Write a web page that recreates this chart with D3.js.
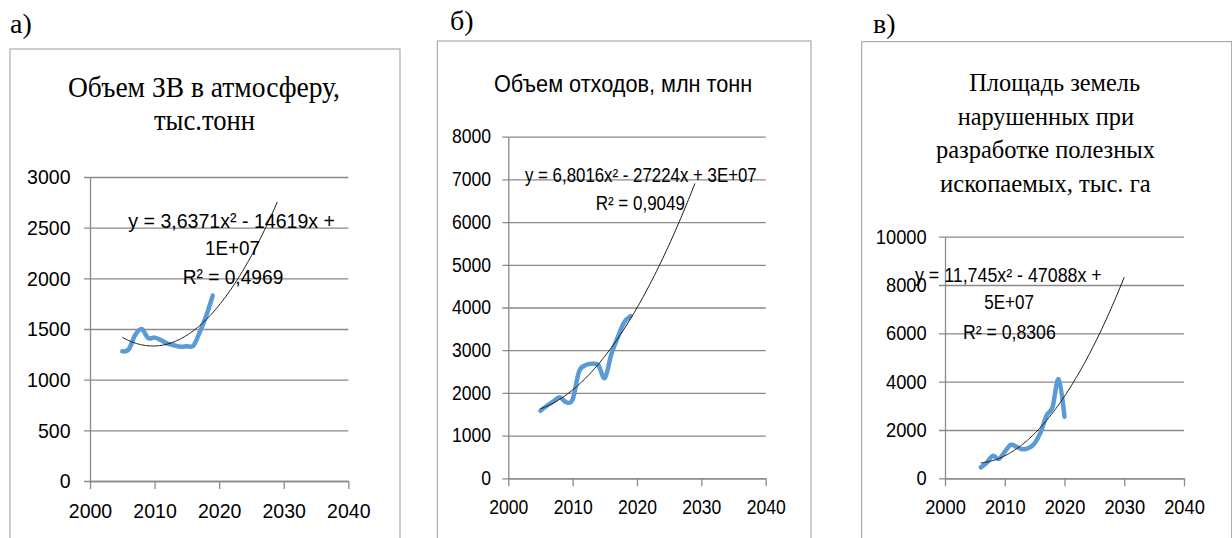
<!DOCTYPE html>
<html>
<head>
<meta charset="utf-8">
<script src="https://cdn.jsdelivr.net/npm/d3@7"></script>
<style>
  body { margin: 0; background: #fff; }
  svg { display: block; }
</style>
</head>
<body>
<div id="graph"></div>
<script>
const xTicks = [2000, 2010, 2020, 2030, 2040];

// а) выбросы ЗВ в атмосферу, тыс. тонн
const yearsA = [2005, 2006, 2007, 2008, 2009, 2010, 2011, 2012, 2013, 2014, 2015, 2016, 2017, 2018, 2019];
const emissions = [1280, 1300, 1440, 1500, 1410, 1415, 1390, 1355, 1340, 1325, 1330, 1335, 1470, 1630, 1830];
const yTicksA = [0, 500, 1000, 1500, 2000, 2500, 3000];

// б) объем отходов, млн тонн
const yearsB = [2005, 2006, 2007, 2008, 2009, 2010, 2011, 2012, 2013, 2014, 2015, 2016, 2017, 2018, 2019];
const waste = [1580, 1700, 1800, 1900, 1780, 1850, 2500, 2650, 2680, 2650, 2350, 2900, 3300, 3650, 3800];
const yTicksB = [0, 1000, 2000, 3000, 4000, 5000, 6000, 7000, 8000];

// в) площадь нарушенных земель, тыс. га
const yearsC = [2006, 2007, 2008, 2009, 2010, 2011, 2012, 2013, 2014, 2015, 2016, 2017, 2018, 2019, 2020];
const land = [450, 650, 930, 800, 1100, 1380, 1300, 1200, 1250, 1450, 1900, 2600, 2950, 4100, 2550];
const yTicksC = [0, 2000, 4000, 6000, 8000, 10000];

const forecast = 10;

const svg = d3.select("#graph")
    .append("svg")
    .attr("width", 1232)
    .attr("height", 538);

// least squares y = c0 + c1*t + c2*t^2 (как линия тренда в Excel)
function quadFit(xs, ys) {
    const m = d3.mean(xs);
    const S = [[0, 0, 0], [0, 0, 0], [0, 0, 0]];
    const R = [0, 0, 0];
    xs.forEach((xv, i) => {
        const p = [1, xv - m, (xv - m) * (xv - m)];
        for (let r = 0; r < 3; r++) {
            R[r] += p[r] * ys[i];
            for (let c = 0; c < 3; c++) S[r][c] += p[r] * p[c];
        }
    });
    for (let k = 0; k < 3; k++) {
        for (let r = k + 1; r < 3; r++) {
            const f = S[r][k] / S[k][k];
            for (let c = k; c < 3; c++) S[r][c] -= f * S[k][c];
            R[r] -= f * R[k];
        }
    }
    const cf = [0, 0, 0];
    for (let r = 2; r >= 0; r--) {
        let s = R[r];
        for (let c = r + 1; c < 3; c++) s -= S[r][c] * cf[c];
        cf[r] = s / S[r][r];
    }
    return xv => cf[0] + cf[1] * (xv - m) + cf[2] * (xv - m) * (xv - m);
}

function addText(g, str, x, y, o) {
    const t = g.append("text")
        .attr("x", x)
        .attr("y", y)
        .attr("font-family", o.family)
        .attr("font-size", o.size)
        .attr("fill", "#000")
        .attr("text-anchor", o.anchor || "start")
        .text(str);
    if (o.width) t.attr("textLength", o.width).attr("lengthAdjust", "spacingAndGlyphs");
    return t;
}

// narrow the tick labels a little, the source picture is stretched vertically
function squeeze(sel, k) {
    sel.each(function () {
        const w = this.getComputedTextLength();
        d3.select(this).attr("textLength", w * k).attr("lengthAdjust", "spacingAndGlyphs");
    });
}

const serif = "'Liberation Serif', 'Times New Roman', serif";
const sans = "'Liberation Sans', Arial, sans-serif";

function panel(p) {
    const g = svg.append("g");

    g.append("rect")
        .attr("x", p.box[0]).attr("y", p.box[1])
        .attr("width", p.box[2]).attr("height", 700)
        .attr("fill", "#fff")
        .attr("stroke", "#9c9c9c")
        .attr("stroke-width", 1);

    addText(g, p.letter[0], p.letter[1], p.letter[2], {family: serif, size: 28});

    p.title.forEach(l => addText(g, l[0], l[1], l[2], {family: p.titleFont, size: p.titleSize, width: l[3]}));

    const x = d3.scaleLinear().domain([2000, 2040]).range(p.xr);
    const y = d3.scaleLinear().domain([0, d3.max(p.yTicks)]).range(p.yr);

    // gridlines
    g.append("g")
        .attr("transform", `translate(${p.xr[0] - 6},0)`)
        .call(d3.axisRight(y).tickValues(p.yTicks).tickSize(p.xr[1] - p.xr[0] + 6).tickFormat(""))
        .call(a => a.select(".domain").remove())
        .call(a => a.selectAll("line").attr("stroke", "#8a8a8a").attr("stroke-width", 1.3));

    g.append("g")
        .attr("transform", `translate(${p.xr[0]},0)`)
        .call(d3.axisLeft(y).tickValues(p.yTicks).tickFormat(d3.format("d")).tickSize(0).tickPadding(p.yPad).tickSizeOuter(0))
        .call(a => a.select(".domain").attr("stroke", "#8a8a8a").attr("stroke-width", 1.3))
        .call(a => a.selectAll("text").attr("font-family", sans).attr("font-size", p.tickSize).attr("fill", "#000"))
        .call(a => squeeze(a.selectAll("text"), p.tickSqueeze));

    g.append("g")
        .attr("transform", `translate(0,${p.yr[0]})`)
        .call(d3.axisBottom(x).tickValues(xTicks).tickFormat(d3.format("d")).tickSizeInner(8).tickSizeOuter(0).tickPadding(14))
        .call(a => a.select(".domain").attr("stroke", "#8a8a8a").attr("stroke-width", 1.3))
        .call(a => a.selectAll("line").attr("stroke", "#8a8a8a").attr("stroke-width", 1.3))
        .call(a => a.selectAll("text").attr("font-family", sans).attr("font-size", p.tickSize).attr("fill", "#000"))
        .call(a => squeeze(a.selectAll("text"), p.tickSqueeze));

    const pts = p.years.map((yr, i) => [yr, p.values[i]]);

    g.append("path")
        .datum(pts)
        .attr("fill", "none")
        .attr("stroke", "#5b9bd5")
        .attr("stroke-width", 4.5)
        .attr("stroke-linecap", "round")
        .attr("stroke-linejoin", "round")
        .attr("d", d3.line().x(d => x(d[0])).y(d => y(d[1])).curve(d3.curveCardinal.tension(0)));

    const fit = quadFit(p.years, p.values);
    const tx = d3.range(p.years[0], d3.max(p.years) + forecast + 1e-6, 0.2);
    g.append("path")
        .datum(tx)
        .attr("fill", "none")
        .attr("stroke", "#1a1a1a")
        .attr("stroke-width", 1)
        .attr("d", d3.line().x(d => x(d)).y(d => y(fit(d))));

    p.eq.forEach(l => addText(g, l[0], l[1], l[2], {family: sans, size: p.eqSize, width: l[3]}));
}

panel({
    box: [10, 49, 390],
    letter: ["а)", 10, 33],
    titleFont: serif, titleSize: 30,
    title: [["Объем ЗВ в атмосферу,", 68, 96.5, 272], ["тыс.тонн", 154, 129.5, 101]],
    xr: [90, 348.3], yr: [481, 177], yTicks: yTicksA, yPad: 19.5, tickSize: 21, tickSqueeze: 0.93,
    years: yearsA, values: emissions,
    eqSize: 20,
    eq: [["y = 3,6371x² - 14619x +", 128.3, 228, 206.7], ["1E+07", 205, 255, 55], ["R² = 0,4969", 182.7, 283.5, 100.6]]
});

panel({
    box: [437.3, 41, 373.7],
    letter: ["б)", 450, 30],
    titleFont: sans, titleSize: 23,
    title: [["Объем отходов, млн тонн", 494, 91.7, 258.3]],
    xr: [508.3, 765.7], yr: [478.3, 136.7], yTicks: yTicksB, yPad: 17.3, tickSize: 19.5, tickSqueeze: 0.9,
    years: yearsB, values: waste,
    eqSize: 19.5,
    eq: [["y = 6,8016x² - 27224x + 3E+07", 525, 182.3, 231.7], ["R² = 0,9049", 595.7, 209.5, 89.3]]
});

panel({
    box: [861.7, 41.7, 370],
    letter: ["в)", 873, 33],
    titleFont: serif, titleSize: 26,
    title: [["Площадь земель", 969.3, 90.7, 170.7], ["нарушенных при", 957.7, 125, 176.3],
            ["разработке полезных", 936, 158.3, 219], ["ископаемых, тыс. га", 940, 192.3, 210.7]],
    xr: [945, 1184], yr: [478.3, 236.7], yTicks: yTicksC, yPad: 18.3, tickSize: 20, tickSqueeze: 0.915,
    years: yearsC, values: land,
    eqSize: 19.5,
    eq: [["y = 11,745x² - 47088x +", 915, 281.5, 186.7], ["5E+07", 984.3, 309, 49.7], ["R² = 0,8306", 963, 339, 92.7]]
});
</script>
</body>
</html>
